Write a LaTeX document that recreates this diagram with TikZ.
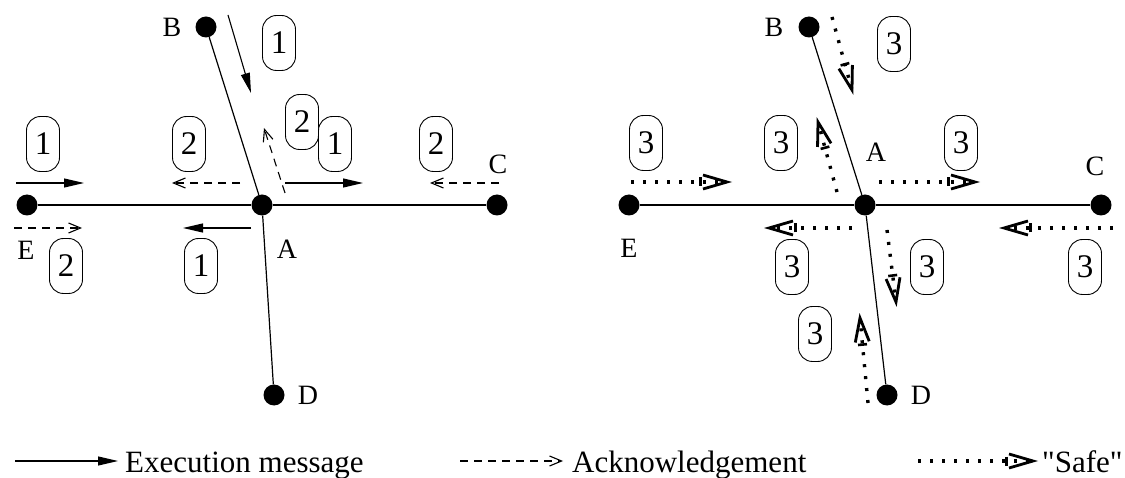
\documentclass[tikz,border=0pt]{standalone}
\usepackage{fontspec}
\setmainfont{Liberation Serif}
\newfontfamily\plainserif{Liberation Serif}
\usetikzlibrary{arrows.meta}
\begin{document}
\begin{tikzpicture}[x=1pt,y=-1pt,
  dot/.style={circle,fill=black,inner sep=0,minimum size=21pt},
  lbl/.style={font=\fontsize{28}{30}\selectfont,inner sep=0},
  num/.style={draw,fill=white,line width=0.9pt,rounded corners=14pt,minimum width=33pt,minimum height=55pt,inner sep=0,font=\fontsize{33}{35}\selectfont},
  edge/.style={line width=1.2pt},
  hedge/.style={line width=1.8pt},
  exec/.style={line width=1.1pt,-{Triangle[length=20pt,width=9pt]}},
  ack/.style={line width=1.1pt,dash pattern=on 8pt off 6pt,-{Straight Barb[length=12pt,width=10pt]}},
  safe/.style={line width=3.4pt,dash pattern=on 3pt off 9pt,shorten >=9pt,-{Bar[width=9pt,line width=2.6pt] Straight Barb[length=24pt,width=14pt,line width=2.8pt,sep=-14pt]}},
  legtext/.style={font=\fontsize{31}{33}\selectfont,anchor=base west,inner sep=0}]
\useasboundingbox (0,0) rectangle (1125,478);

% ---------- left diagram ----------
\node[dot] (lA) at (262,205) {};
\node[dot] (lB) at (206,27) {};
\node[dot] (lC) at (497,205) {};
\node[dot] (lD) at (274,395) {};
\node[dot] (lE) at (27,205) {};
\draw[hedge] (lE) -- (lA) -- (lC);
\draw[edge] (lB) -- (lA) -- (lD);
\node[lbl] (lBl) at (172,27) {B};
\node[lbl] (lCl) at (498,164) {C};
\node[lbl] (lEl) at (26,250) {E};
\node[lbl] (lAl) at (287,249) {A};
\node[lbl] (lDl) at (308,395) {D};

\coordinate (l1s) at (228,15);  \coordinate (l1e) at (251,93);
\coordinate (l2s) at (285,193); \coordinate (l2e) at (264,128);
\coordinate (l3s) at (16,183);  \coordinate (l3e) at (84,183);
\coordinate (l4s) at (240,183); \coordinate (l4e) at (172,183);
\coordinate (l5s) at (285,183); \coordinate (l5e) at (363,183);
\coordinate (l6s) at (499,183); \coordinate (l6e) at (430,183);
\coordinate (l7s) at (14,228);  \coordinate (l7e) at (82,228);
\coordinate (l8s) at (251,228); \coordinate (l8e) at (183,228);
\draw[exec] (l1s) -- (l1e);
\draw[ack]  (l2s) -- (l2e);
\draw[exec] (l3s) -- (l3e);
\draw[ack]  (l4s) -- (l4e);
\draw[exec] (l5s) -- (l5e);
\draw[ack]  (l6s) -- (l6e);
\draw[ack]  (l7s) -- (l7e);
\draw[exec] (l8s) -- (l8e);

\node[num] (n1) at (279,43) {1};
\node[num] (n2) at (302,122) {2};
\node[num] (n3) at (335,144) {1};
\node[num] (n4) at (43,144) {1};
\node[num] (n5) at (189,144) {2};
\node[num] (n6) at (436,144) {2};
\node[num] (n7) at (66,266) {2};
\node[num] (n8) at (201,266) {1};

% ---------- right diagram ----------
\node[dot] (rA) at (865,205) {};
\node[dot] (rB) at (809,27) {};
\node[dot] (rC) at (1101,205) {};
\node[dot] (rD) at (887,395) {};
\node[dot] (rE) at (629,205) {};
\draw[hedge] (rE) -- (rA) -- (rC);
\draw[edge] (rB) -- (rA) -- (rD);
\node[lbl] (rBl) at (774,27) {B};
\node[lbl] (rAl) at (876,152) {A};
\node[lbl] (rCl) at (1095,166) {C};
\node[lbl] (rEl) at (629,248) {E};
\node[lbl] (rDl) at (921,395) {D};

\coordinate (r1s) at (832,17);  \coordinate (r1e) at (852,90);
\coordinate (r2s) at (631,182); \coordinate (r2e) at (727,182);
\coordinate (r3s) at (837,192); \coordinate (r3e) at (818,122);
\coordinate (r4s) at (879,182); \coordinate (r4e) at (975,182);
\coordinate (r5s) at (852,228); \coordinate (r5e) at (769,228);
\coordinate (r6s) at (1113,228); \coordinate (r6e) at (1004,228);
\coordinate (r7s) at (887,230); \coordinate (r7e) at (896,302);
\coordinate (r8s) at (868,403); \coordinate (r8e) at (860,318);
\draw[safe] (r1s) -- (r1e);
\draw[safe] (r2s) -- (r2e);
\draw[safe] (r3s) -- (r3e);
\draw[safe] (r4s) -- (r4e);
\draw[safe] (r5s) -- (r5e);
\draw[safe] (r6s) -- (r6e);
\draw[safe] (r7s) -- (r7e);
\draw[safe] (r8s) -- (r8e);

\node[num] (m1) at (894,44) {3};
\node[num] (m2) at (646,143) {3};
\node[num] (m3) at (781,143) {3};
\node[num] (m4) at (961,143) {3};
\node[num] (m5) at (1085,267) {3};
\node[num] (m6) at (792,267) {3};
\node[num] (m7) at (927,267) {3};
\node[num] (m8) at (815,334) {3};

% ---------- legend ----------
\coordinate (g1s) at (15,461);  \coordinate (g1e) at (118,461);
\coordinate (g2s) at (460,461); \coordinate (g2e) at (563,461);
\coordinate (g3s) at (918,461); \coordinate (g3e) at (1033,461);
\draw[exec] (g1s) -- (g1e);
\draw[ack]  (g2s) -- (g2e);
\draw[safe] (g3s) -- (g3e);
\node[legtext] (t1) at (125,472) {Execution message};
\node[legtext] (t2) at (572,472) {Acknowledgement};
\node[legtext] (t3) at (1042,472) {\plainserif "Safe"};
\end{tikzpicture}
\end{document}
